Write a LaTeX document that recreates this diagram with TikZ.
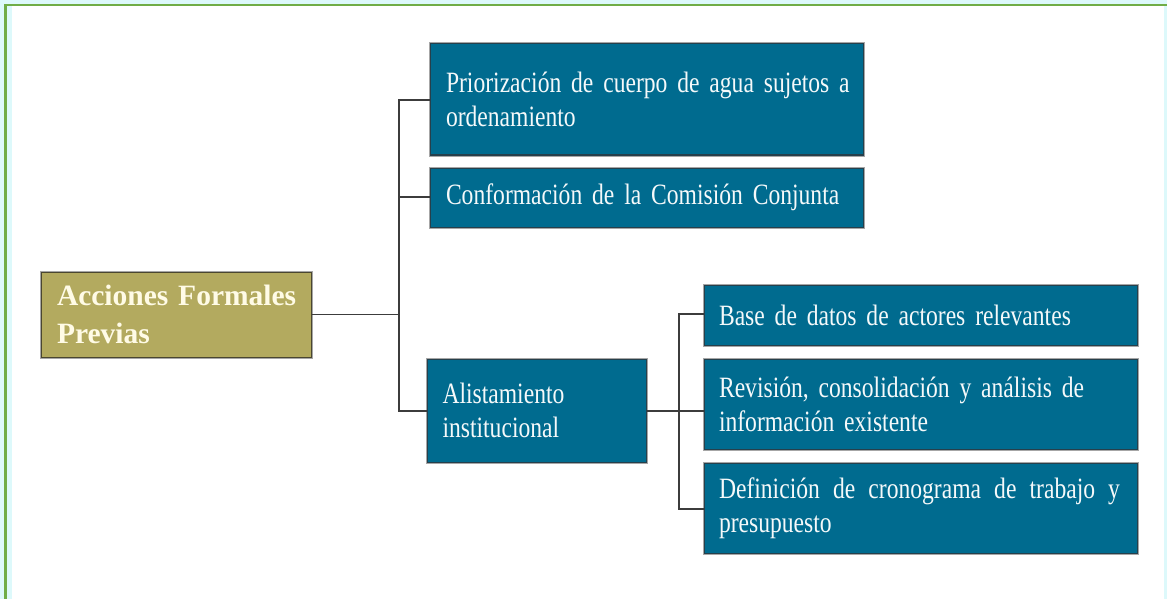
\documentclass[tikz,border=0pt]{standalone}
\usepackage{fontspec}
\setmainfont{Liberation Serif}[FakeStretch=0.8, WordSpace=0.8]
\newfontfamily\rootfont{Liberation Serif}[WordSpace=0.9]
\definecolor{boxblue}{HTML}{006B8F}
\definecolor{boxedge}{HTML}{26404C}
\definecolor{olive}{HTML}{B3AA5F}
\definecolor{oliveedge}{HTML}{4A4630}
\definecolor{frameg}{HTML}{70AD47}
\definecolor{bgcyan}{HTML}{DDF9FB}
\definecolor{cream}{HTML}{FFFBE6}
\definecolor{linegray}{HTML}{3C3C3C}
\tikzset{
  halo/.style={preaction={draw=black!35, line width=3pt}},
  bluebox/.style={halo, draw=boxedge, line width=1pt, fill=boxblue, text=white!96!boxblue,
    inner sep=0pt, align=left, font=\fontsize{29.5}{34}\selectfont},
  rootbox/.style={halo, draw=oliveedge, line width=1pt, fill=olive, text=cream,
    inner sep=0pt, align=left, font=\rootfont\bfseries\fontsize{29.5}{38}\selectfont},
  conn/.style={draw=linegray, line width=1.3pt}
}
\begin{document}
\begin{tikzpicture}[x=1pt,y=-1pt]
\useasboundingbox (0,0) rectangle (1167,599);
% background and frame
\fill[bgcyan] (0,0) rectangle (1167,599);
\fill[white] (12,6) rectangle (1164,599);
\fill[frameg] (4,4) rectangle (1167,6.5);
\fill[frameg] (4,4) rectangle (6.5,599);

% root
\node[rootbox, minimum width=270pt, minimum height=85pt, text width=238pt] (root) at (176,314.5)
  {\mbox{Acciones Formales}\\\mbox{Previas}};

% first level
\node[bluebox, minimum width=433pt, minimum height=111pt, text width=401pt] (b1) at (646.5,99.5)
  {\mbox{Priorización de cuerpo de agua sujetos a}\\\mbox{ordenamiento}};
\node[bluebox, minimum width=433pt, minimum height=59pt, text width=401pt] (b2) at (646.5,197.5)
  {\mbox{Conformación de la Comisión Conjunta}};
\node[bluebox, minimum width=219pt, minimum height=103pt, text width=188pt] (b3) at (536.5,410.5)
  {\mbox{Alistamiento}\\\mbox{institucional}};

% second level
\node[bluebox, minimum width=433pt, minimum height=60pt, text width=403pt] (b4) at (920.5,315)
  {\mbox{Base de datos de actores relevantes}};
\node[bluebox, minimum width=433pt, minimum height=90pt, text width=403pt] (b5) at (920.5,404)
  {\mbox{Revisión, consolidación y análisis de}\\\mbox{información existente}};
\node[bluebox, minimum width=433pt, minimum height=90pt, text width=403pt] (b6) at (920.5,508)
  {\makebox[401pt][l]{Definición\hfill de\hfill cronograma\hfill de\hfill trabajo\hfill y}\\\mbox{presupuesto}};

% connectors
\coordinate (j1) at (399,314.5);
\coordinate (j2) at (679,411);
\draw[conn] (root.east) -- (j1);
\draw[conn] (b1.west |- 0,100) -| (j1 |- 0,100) -- (j1 |- 0,411) -- (b3.west |- 0,411);
\draw[conn] (j1 |- 0,197) -- (b2.west |- 0,197);
\draw[conn] (b3.east |- j2) -- (j2);
\draw[conn] (b4.west |- 0,314) -| (j2 |- 0,314) -- (j2 |- 0,509) -- (b6.west |- 0,509);
\draw[conn] (j2) -- (b5.west |- j2);
\end{tikzpicture}
\end{document}
